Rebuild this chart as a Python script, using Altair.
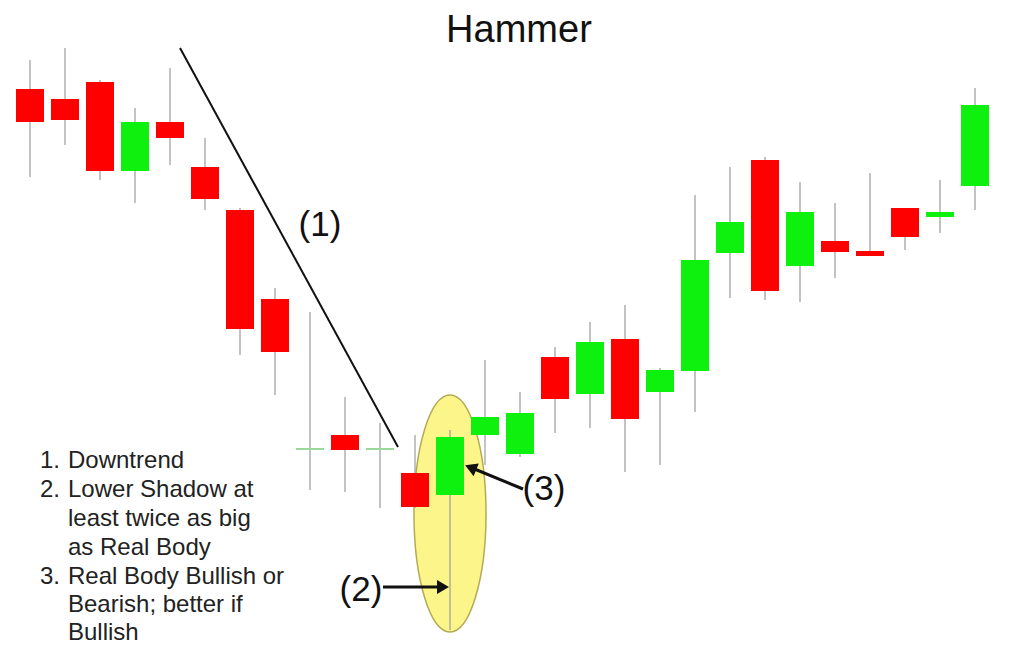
import altair as alt
import pandas as pd

# ---- candle data (price units) ----
idx = list(range(1, 29))
open_ = [61.1, 60.1, 61.8, 52.9, 57.8, 53.3, 49.0, 40.1, 25.0, 26.5, 25.0, 22.7, 20.5, 26.5,
         24.6, 34.3, 30.6, 36.1, 30.8, 32.9, 44.7, 54.0, 43.4, 45.9, 44.9, 49.2, 48.3, 51.4]
high = [64.0, 65.2, 62.0, 59.2, 63.2, 56.2, 49.2, 41.2, 38.8, 30.3, 27.7, 26.5, 27.0, 34.0,
        30.8, 35.3, 37.8, 39.5, 33.2, 50.5, 53.3, 54.3, 51.8, 49.7, 52.7, 49.2, 52.0, 61.2]
low = [52.3, 55.5, 52.0, 49.7, 53.5, 49.0, 34.5, 30.5, 21.0, 20.8, 19.2, 19.2, 7.0, 23.5,
       24.3, 26.7, 27.2, 22.8, 23.5, 28.8, 40.2, 40.0, 39.8, 42.2, 44.4, 45.0, 46.7, 49.0]
close = [57.8, 58.0, 52.9, 57.8, 56.2, 50.1, 37.1, 34.8, 25.2, 25.0, 25.2, 19.3, 26.3, 28.3,
         28.7, 30.1, 35.8, 28.1, 33.0, 44.0, 47.8, 40.9, 48.8, 44.8, 44.4, 46.3, 48.8, 59.5]

kind = []
for o, c in zip(open_, close):
    if abs(c - o) < 0.3:
        kind.append("doji")
    elif c > o:
        kind.append("bull")
    else:
        kind.append("bear")

df = pd.DataFrame({"idx": idx, "open": open_, "high": high, "low": low,
                   "close": close, "kind": kind})

# ---- annotation data (in the same index / price units) ----
title_pos = {"x": [14.97], "y": [65.8], "t": ["Hammer"]}
labels = {"x": [9.286, 10.457, 15.686], "y": [47.5, 11.0, 21.1], "t": ["(1)", "(2)", "(3)"]}
trend = {"x": [5.286], "y": [65.2], "x2": [11.514], "y2": [25.3]}
arrow_lines = {"x": [11.086, 15.086], "y": [11.3, 21.1], "x2": [12.743, 13.629], "y2": [11.3, 23.2]}
arrow_heads = {"x": [12.743, 13.643], "y": [11.3, 23.17], "a": [90, 292]}
oval = {"x": [13.0], "y": [18.65]}
list_nums = {"x": [1.286, 1.286, 1.286], "y": [23.2, 20.3, 11.6], "t": ["1.", "2.", "3."]}
list_text = {"x": [2.086] * 7,
             "y": [23.2, 20.3, 17.4, 14.5, 11.6, 8.8, 6.0],
             "t": ["Downtrend", "Lower Shadow at", "least twice as big", "as Real Body",
                   "Real Body Bullish or", "Bearish; better if", "Bullish"]}

XS = alt.Scale(domain=[0.3714, 29.057], nice=False, zero=False, padding=0)
YS = alt.Scale(domain=[5.5, 69.2], nice=False, zero=False, padding=0)
FONT = "Liberation Sans"


def X(f="x"):
    return alt.X(f"{f}:Q", scale=XS, axis=None)


def Y(f="y"):
    return alt.Y(f"{f}:Q", scale=YS, axis=None)


ellipse = alt.Chart(pd.DataFrame(oval)).mark_point(
    shape="M0,-1 A0.304,1 0 1,1 0,1 A0.304,1 0 1,1 0,-1 Z",
    size=56169, filled=True, fill="#fcf68a", stroke="#b3ab55",
    strokeWidth=1.5, opacity=1, fillOpacity=1, strokeOpacity=1,
).encode(x=X(), y=Y())

wicks = alt.Chart(df).mark_rule(color="#9a9a9a", strokeWidth=1.6, opacity=0.75).encode(
    x=X("idx"), y=Y("low"), y2="high:Q")

bodies = alt.Chart(df).mark_bar(size=28).encode(
    x=X("idx"), y=Y("open"), y2="close:Q",
    color=alt.Color("kind:N", legend=None,
                    scale=alt.Scale(domain=["bull", "bear", "doji"],
                                    range=["#0ef00e", "#ff0000", "#9ad99a"])))

trendline = alt.Chart(pd.DataFrame(trend)).mark_rule(color="#111111", strokeWidth=2).encode(
    x=X(), y=Y(), x2="x2:Q", y2="y2:Q")

arrows = alt.Chart(pd.DataFrame(arrow_lines)).mark_rule(color="#111111", strokeWidth=3).encode(
    x=X(), y=Y(), x2="x2:Q", y2="y2:Q")

heads = alt.Chart(pd.DataFrame(arrow_heads)).mark_point(
    shape="triangle", filled=True, color="#111111", size=190, opacity=1).encode(
    x=X(), y=Y(), angle=alt.Angle("a:Q", scale=None))

title = alt.Chart(pd.DataFrame(title_pos)).mark_text(
    font=FONT, fontSize=38, color="#111111", align="center", baseline="alphabetic").encode(
    x=X(), y=Y(), text="t:N")

lab = alt.Chart(pd.DataFrame(labels)).mark_text(
    font=FONT, fontSize=35, color="#111111", align="center", baseline="middle").encode(
    x=X(), y=Y(), text="t:N")

nums = alt.Chart(pd.DataFrame(list_nums)).mark_text(
    font=FONT, fontSize=24, color="#222222", align="left", baseline="alphabetic").encode(
    x=X(), y=Y(), text="t:N")

txt = alt.Chart(pd.DataFrame(list_text)).mark_text(
    font=FONT, fontSize=24, color="#222222", align="left", baseline="alphabetic").encode(
    x=X(), y=Y(), text="t:N")

chart = alt.layer(ellipse, wicks, bodies, trendline, arrows, heads, title, lab, nums, txt).properties(
    width=1004, height=637, padding=0, background="white",
    autosize=alt.AutoSizeParams(type="none"),
).configure_view(stroke=None)

chart.save("out.html", embed_options={"renderer": "svg", "actions": False})
